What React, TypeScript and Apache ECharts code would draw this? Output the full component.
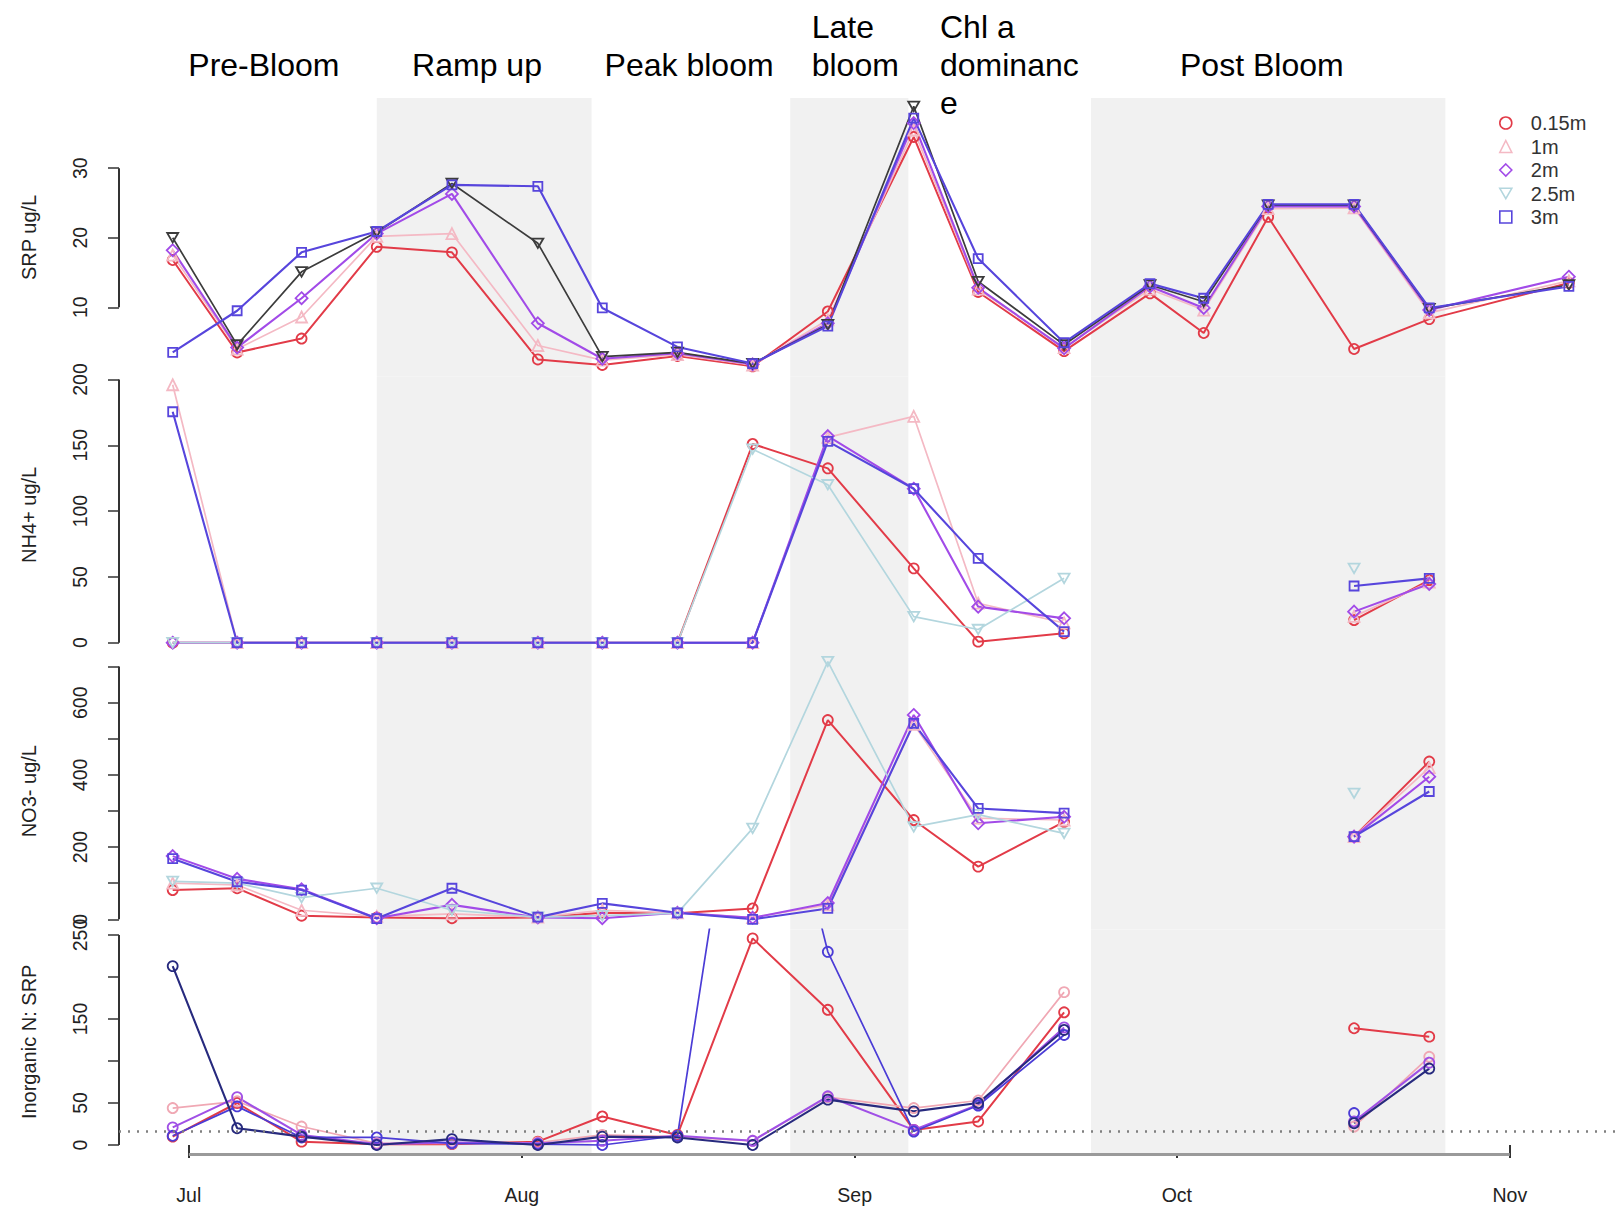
import React, { useEffect, useRef } from 'react';
import * as echarts from 'echarts';

// ---------------- data ----------------
const sampleDates = ['06-29', '07-05', '07-11', '07-18', '07-25', '08-02', '08-08', '08-15', '08-22', '08-29', '09-06', '09-12', '09-20', '09-28', '10-03', '10-09', '10-17', '10-24', '11-06'];
const depths = ['0.15m', '1m', '2m', '2.5m', '3m'];
const monthTicks = ['07-01', '08-01', '09-01', '10-01', '11-01'];
const monthLabels = ['Jul', 'Aug', 'Sep', 'Oct', 'Nov'];
const phaseNames = ['Pre-Bloom', 'Ramp up', 'Peak bloom', 'Late\nbloom', 'Chl a\ndominanc\ne', 'Post Bloom'];
const shadedPeriods = [['07-18 12h', '08-07 12h'], ['08-26 00h', '09-06 00h'], ['09-23 00h', '10-26 00h']];
const redfieldRatio = 16;

const srp015 = [16.8, 3.5, 5.5, 18.7, 17.9, 2.5, 1.7, 3.0, 1.5, 9.4, 34.5, 12.2, 3.7, 12.0, 6.3, 23.0, 4.0, 8.3, 13.5];
const srp1 = [17.5, 4.0, 8.6, 20.2, 20.6, 4.5, 2.4, 3.2, 1.7, 8.2, 35.5, 12.6, 4.2, 12.6, 9.6, 24.2, 24.3, 9.2, 13.8];
const srp2 = [18.2, 4.2, 11.3, 20.6, 26.3, 7.7, 2.6, 3.4, 1.8, 7.7, 36.5, 12.8, 4.1, 13.0, 9.9, 24.5, 24.5, 9.6, 14.4];
const srp25 = [20.0, 4.6, 15.1, 20.8, 27.8, 19.2, 2.9, 3.5, 1.9, 7.5, 38.9, 13.7, 4.6, 13.2, 10.8, 24.7, 24.7, 9.8, 13.2];
const srp3 = [3.5, 9.5, 17.9, 20.9, 27.6, 27.4, 9.9, 4.3, 1.9, 7.3, 37.2, 17.0, 4.9, 13.4, 11.3, 24.8, 24.8, 9.9, 13.0];

const nh4015 = [0, 0, 0, 0, 0, 0, 0, 0, 151, 132.5, 56.5, 0.8, 7.1, null, null, null, 17.2, 47.6, null];
const nh41 = [196, 0, 0, 0, 0, 0, 0, 0, 0, 156, 172, 30, 15, null, null, null, 20, 46, null];
const nh42 = [0, 0, 0, 0, 0, 0, 0, 0, 0, 157, 117, 27.4, 18.5, null, null, null, 23.6, 44.6, null];
const nh425 = [0, 0, 0, 0, 0, 0, 0, 0, 147, 120, 19.8, 10, 48.9, null, null, null, 56.5, null, null];
const nh43 = [175.5, 0, 0, 0, 0, 0, 0, 0, 0, 153, 117, 64.1, 8.4, null, null, null, 43.1, 48.9, null];

const no3015 = [81, 86, 10, 5, 3, 5, 18, 17, 30, 552, 275, 146, 270, null, null, null, 229, 437, null];
const no31 = [100, 95, 25, 8, 15, 6, 25, 18, 5, 40, 540, 280, 275, null, null, null, 229, 420, null];
const no32 = [175, 112, 83, 3, 40, 5, 3, 18, 4, 45, 566, 266, 284, null, null, null, 229, 395, null];
const no325 = [105, 100, 60, 86, 25, 6, 10, 17, 252, 714, 256, 290, 238, null, null, null, 349, null, null];
const no33 = [168, 104, 81, 2, 86, 6, 44, 18, 0, 30, 543, 307, 294, null, null, null, 229, 354, null];

const ratio015 = [10, 50, 4, 1, 1, 4, 34, 12, 246, 161, 18, 28, 158, null, null, null, 139, 129, null];
const ratio1 = [44, 52, 22, 2, 2, 3, 12, 10, 5, 57, 44, 53, 182, null, null, null, 22, 105, null];
const ratio2 = [21, 57, 12, 1, 3, 2, 5, 11, 5, 58, 18, 48, 140, null, null, null, 28, 98, null];
const ratio25 = [11, 46, 9, 9, 2, 1, 0, 11, 590, 230, 16, 47, 131, null, null, null, 38, null, null];
const ratio3 = [213, 20, 10, 0, 7, 0, 10, 9, 0, 54, 40, 50, 137, null, null, null, 26, 91, null];

const srpTicks = [10, 20, 30];
const nh4Ticks = [0, 50, 100, 150, 200];
const no3Ticks = [0, 100, 200, 300, 400, 500, 600, 700];
const no3Labels = [0, 200, 400, 600];
const ratioTicks = [0, 50, 100, 150, 200, 250];
const ratioLabels = [0, 50, 150, 250];

// ---------------- styles / layout ----------------
const FONT = '"Liberation Sans", Arial, Helvetica, sans-serif';
const TXT = '#222';
const SYM_CIRCLE = 'circle';
const SYM_TRI = 'triangle';
const SYM_DIA = 'diamond';
const SYM_INV = 'path://M0,0L10,0L5,8.66Z';
const SYM_SQ = 'rect';
const symbolSizes: Record<string, number> = { circle: 10, triangle: 11, diamond: 12, rect: 9 };

const baseColors = ['#E23B48', '#F4B9C4', '#A24BE8', '#B3D6DE', '#5745DC'];
const srpColors = ['#E23B48', '#F4B9C4', '#A24BE8', '#3C3C3C', '#5745DC'];
const ratioColors = ['#E23B48', '#F0A8B4', '#A050E6', '#4B3CD6', '#272A7E'];
const baseSymbols = [SYM_CIRCLE, SYM_TRI, SYM_DIA, SYM_INV, SYM_SQ];
const ratioSymbols = [SYM_CIRCLE, SYM_CIRCLE, SYM_CIRCLE, SYM_CIRCLE, SYM_CIRCLE];
const lineWidths = [2, 1.7, 2.1, 1.7, 2.1];

const panels = [
  { title: 'SRP ug/L', series: [srp015, srp1, srp2, srp25, srp3], min: 0, max: 40.1, ticks: srpTicks, labels: srpTicks, colors: srpColors, symbols: baseSymbols, top: 98, height: 278.8 },
  { title: 'NH4+ ug/L', series: [nh4015, nh41, nh42, nh425, nh43], min: -7.83, max: 202.05, ticks: nh4Ticks, labels: nh4Ticks, colors: baseColors, symbols: baseSymbols, top: 376.8, height: 276.2 },
  { title: 'NO3- ug/L', series: [no3015, no31, no32, no325, no33], min: -28, max: 737.7, ticks: no3Ticks, labels: no3Labels, colors: baseColors, symbols: baseSymbols, top: 653, height: 276.4 },
  { title: 'Inorganic N: SRP', series: [ratio015, ratio1, ratio2, ratio25, ratio3], min: -11.07, max: 256.7, ticks: ratioTicks, labels: ratioLabels, colors: ratioColors, symbols: ratioSymbols, top: 929.4, height: 224.9 },
];

const phaseLayout = [
  { x: 188.3, top: 46.15 },
  { x: 412.1, top: 46.15 },
  { x: 604.6, top: 46.15 },
  { x: 811.7, top: 8.45 },
  { x: 940, top: 8.45 },
  { x: 1180, top: 46.15 },
];

// half-day categories from Jun 24 12h to Nov 11 00h
const HALF_DAY = 12 * 3600 * 1000;
function keyOf(t: number) {
  const d = new Date(t);
  const mm = String(d.getUTCMonth() + 1).padStart(2, '0');
  const dd = String(d.getUTCDate()).padStart(2, '0');
  const hh = d.getUTCHours() === 12 ? '12' : '00';
  return `${mm}-${dd} ${hh}h`;
}
const categories: string[] = [];
for (let t = Date.UTC(2019, 5, 24, 12); t <= Date.UTC(2019, 10, 11, 0); t += HALF_DAY) categories.push(keyOf(t));
const sampleKeys = sampleDates.map((d) => d + ' 12h');
const monthKeys = monthTicks.map((d) => d + ' 00h');
const isMonthStart = (_i: number, v: string) => monthKeys.indexOf(v) >= 0;

function symSize(s: string) {
  if (s === SYM_INV) return 11;
  return symbolSizes[s] || 10;
}

function buildOption() {
  const grid: any[] = [];
  const xAxis: any[] = [];
  const yAxis: any[] = [];
  const series: any[] = [];

  panels.forEach((p, pi) => {
    const last = pi === panels.length - 1;
    grid.push({ left: 119, right: 1.8, top: p.top, height: p.height, containLabel: false });
    xAxis.push({
      type: 'category',
      gridIndex: pi,
      data: categories,
      boundaryGap: false,
      axisLine: { show: false },
      splitLine: { show: false },
      axisTick: last
        ? { show: true, interval: isMonthStart, length: 13, lineStyle: { color: '#333', width: 2 } }
        : { show: false },
      axisLabel: last
        ? {
            show: true,
            interval: isMonthStart,
            margin: 31,
            fontSize: 19.5,
            fontFamily: FONT,
            color: TXT,
            formatter: (v: string) => monthLabels[monthKeys.indexOf(v)] || '',
          }
        : { show: false },
    });
    yAxis.push({
      type: 'value',
      gridIndex: pi,
      min: p.min,
      max: p.max,
      name: p.title,
      nameLocation: 'middle',
      nameGap: 80,
      nameRotate: 90,
      nameTextStyle: { fontSize: 20, fontFamily: FONT, color: TXT },
      axisLine: { show: false },
      splitLine: { show: false },
      axisTick: { show: true, customValues: p.ticks, length: 11, lineStyle: { color: '#333', width: 1.5 } },
      axisLabel: { show: true, customValues: p.labels, rotate: 90, margin: 29, fontSize: 19.5, fontFamily: FONT, color: TXT },
    });

    // frame series: shading + axis lines
    const lo = p.ticks[0];
    const hi = p.ticks[p.ticks.length - 1];
    const mlData: any[] = [
      [
        { coord: [categories[0], lo], lineStyle: { color: '#333', width: 2, type: 'solid' } },
        { coord: [categories[0], hi] },
      ],
    ];
    if (last) {
      mlData.push([
        { coord: [monthKeys[0], p.min], lineStyle: { color: '#9A9A9A', width: 3, type: 'solid' } },
        { coord: [monthKeys[monthKeys.length - 1], p.min] },
      ]);
      mlData.push({ yAxis: redfieldRatio, lineStyle: { color: '#808080', width: 2.5, type: [2, 7] } });
    }
    series.push({
      type: 'line',
      name: 'frame' + pi,
      xAxisIndex: pi,
      yAxisIndex: pi,
      data: [],
      clip: false,
      silent: true,
      markArea: {
        silent: true,
        itemStyle: { color: '#F1F1F1' },
        data: shadedPeriods.map(([a, b]) => [{ xAxis: a }, { xAxis: b }]),
      },
      markLine: {
        silent: true,
        symbol: ['none', 'none'],
        label: { show: false },
        data: mlData,
      },
    });

    p.series.forEach((vals, si) => {
      const c = p.colors[si];
      const s = p.symbols[si];
      series.push({
        type: 'line',
        name: depths[si],
        xAxisIndex: pi,
        yAxisIndex: pi,
        data: sampleKeys.map((k, i) => [k, vals[i] == null ? '-' : vals[i]]),
        symbol: s,
        symbolSize: symSize(s),
        symbolKeepAspect: true,
        showSymbol: true,
        showAllSymbol: true,
        connectNulls: false,
        itemStyle: { color: 'rgba(255,255,255,0)', borderColor: c, borderWidth: 1.8 },
        lineStyle: { color: c, width: lineWidths[si] },
        emphasis: { disabled: true },
      });
    });
  });

  const legendData = depths.map((d, i) => ({
    name: d,
    icon: baseSymbols[i],
    itemStyle: { color: 'rgba(255,255,255,0)', borderColor: baseColors[i], borderWidth: 1.6 },
  }));

  const graphic = phaseNames.map((t, i) => ({
    type: 'text',
    x: phaseLayout[i].x,
    y: phaseLayout[i].top,
    silent: true,
    style: {
      text: t,
      fontSize: 32,
      fontFamily: FONT,
      fill: '#000',
      lineHeight: 37.7,
      align: 'left',
      verticalAlign: 'top',
    },
  }));

  return {
    animation: false,
    backgroundColor: '#fff',
    grid,
    xAxis,
    yAxis,
    series,
    graphic,
    legend: {
      orient: 'vertical',
      left: 1494,
      top: 108,
      itemWidth: 12,
      itemHeight: 12,
      itemGap: 3.5,
      selectedMode: false,
      data: legendData,
      textStyle: { fontSize: 20, fontFamily: FONT, color: '#333', lineHeight: 19, padding: [0, 0, 0, 14] },
    },
  };
}

export default function App() {
  const ref = useRef<HTMLDivElement>(null);
  useEffect(() => {
    if (!ref.current) return;
    const chart = echarts.init(ref.current, undefined, { renderer: 'svg' });
    chart.setOption(buildOption() as any);
    return () => chart.dispose();
  }, []);
  return <div ref={ref} style={{ position: 'absolute', left: 0, top: 0, width: 1619, height: 1209, background: '#fff' }} />;
}
